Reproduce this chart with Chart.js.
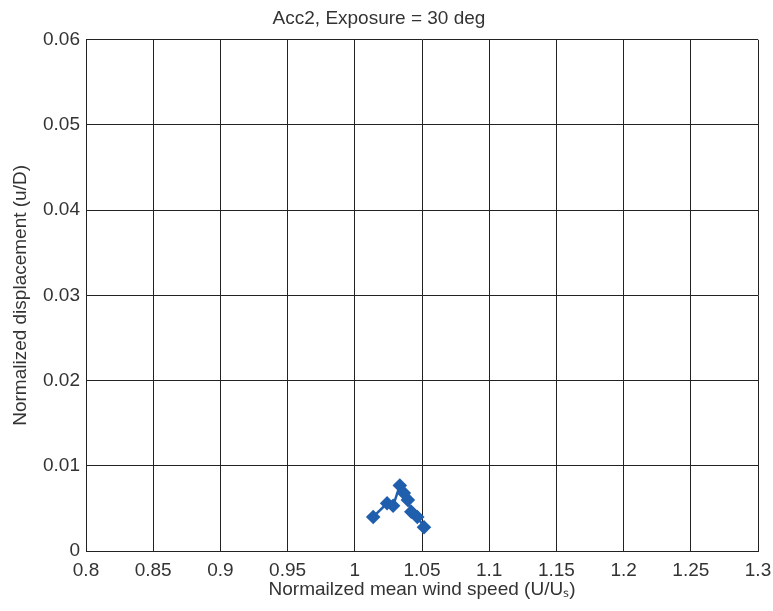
<!DOCTYPE html>
<html>
<head>
<meta charset="utf-8">
<script src="https://cdn.jsdelivr.net/npm/chart.js@4/dist/chart.umd.min.js"></script>
<style>
  html, body { margin: 0; padding: 0; background: #fff; }
  #wrap { width: 773px; height: 611px; }
</style>
</head>
<body>
<div id="wrap"><canvas id="chart"></canvas></div>
<script>
// data
var windSpeed = [1.0137, 1.0240, 1.0285, 1.0335, 1.0365, 1.0395, 1.0420, 1.0465, 1.0515];
var displacement = [0.0040, 0.0056, 0.0053, 0.0077, 0.0068, 0.0060, 0.0046, 0.0040, 0.0028];

var chartTitle = "Acc2, Exposure = 30 deg";
var xTitle = "Normailzed mean wind speed (U/U\u209B)";
var yTitle = "Normalized displacement (u/D)";

var points = [];
for (var i = 0; i < windSpeed.length; ++i) {
  points.push({x: windSpeed[i], y: displacement[i]});
}

var fontFam = "Arial, 'Liberation Sans', Helvetica, sans-serif";
var textCol = "#333";
var gridCol = "#222";

function fmt(v) {
  return String(parseFloat(Number(v).toFixed(4)));
}

var ctx = document.getElementById("chart");
var chart = new Chart(ctx, {
  type: 'scatter',
  data: {
    datasets: [{
      data: points,
      showLine: true,
      borderColor: '#1f5fad',
      backgroundColor: '#1f5fad',
      borderWidth: 2.5,
      pointStyle: 'rectRot',
      pointRadius: 5.5,
      pointHoverRadius: 5.5
    }]
  },
  options: {
    responsive: true,
    maintainAspectRatio: false,
    animation: false,
    layout: { padding: { left: 0, right: 15, top: 0, bottom: 0 } },
    plugins: {
      legend: { display: false },
      tooltip: { enabled: false },
      title: {
        display: true,
        text: chartTitle,
        color: textCol,
        font: { family: fontFam, size: 19, weight: 'normal' },
        padding: { top: 7, bottom: 10 }
      }
    },
    scales: {
      x: {
        type: 'linear',
        min: 0.8,
        max: 1.3,
        afterFit: function (s) {
          s.height = 60;
          s.paddingLeft = 0;
          s.paddingRight = 0;
        },
        ticks: {
          stepSize: 0.05,
          color: textCol,
          padding: 8,
          maxRotation: 0,
          font: { family: fontFam, size: 19 },
          callback: function (v) { return fmt(v); }
        },
        grid: { color: gridCol, lineWidth: 1, drawTicks: false },
        border: { color: gridCol },
        title: {
          display: true,
          text: xTitle,
          color: textCol,
          font: { family: fontFam, size: 19 },
          padding: { top: 0, bottom: 10 }
        }
      },
      y: {
        type: 'linear',
        min: 0,
        max: 0.06,
        afterFit: function (s) {
          s.width = 86;
          s.paddingTop = 0;
          s.paddingBottom = 0;
        },
        ticks: {
          stepSize: 0.01,
          color: textCol,
          padding: 6,
          font: { family: fontFam, size: 19 },
          callback: function (v) { return fmt(v); }
        },
        grid: { color: gridCol, lineWidth: 1, drawTicks: false },
        border: { color: gridCol },
        title: {
          display: true,
          text: yTitle,
          color: textCol,
          font: { family: fontFam, size: 19 },
          padding: { top: 9, bottom: 0 }
        }
      }
    }
  }
});
</script>
</body>
</html>
